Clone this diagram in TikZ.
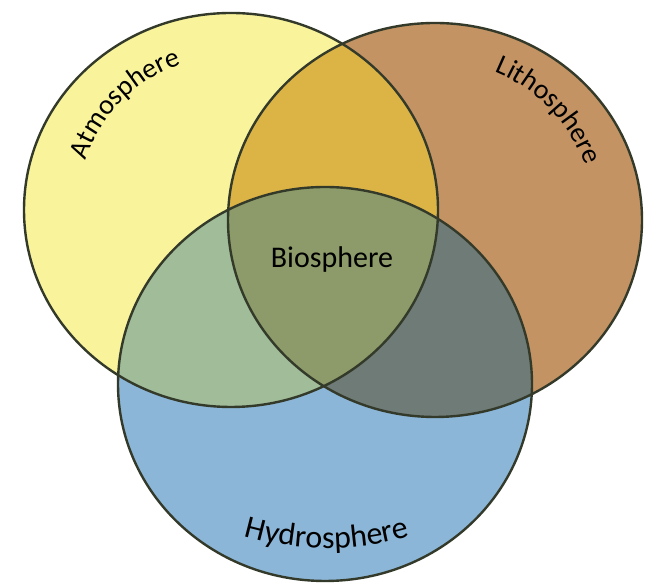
\documentclass[tikz,border=0pt]{standalone}
\usepackage{fontspec}
\setmainfont{Carlito}
\usepackage{tikz}
\usetikzlibrary{decorations.text}

\definecolor{atmoyellow}{HTML}{F9F49C}
\definecolor{lithobrown}{HTML}{C39363}
\definecolor{hydroblue}{HTML}{8CB6D8}
\definecolor{goldmix}{HTML}{DCB446}
\definecolor{sagemix}{HTML}{A0BC98}
\definecolor{slatemix}{HTML}{6F7B77}
\definecolor{olivemix}{HTML}{8C9B69}
\definecolor{ringline}{HTML}{343A2A}

\newcommand{\atmopath}{(231,375) ellipse [x radius=207, y radius=197]}
\newcommand{\lithopath}{(435,365) ellipse [x radius=207, y radius=197]}
\newcommand{\hydropath}{(325,201) ellipse [x radius=207, y radius=197]}
\newcommand{\lblfont}{\fontsize{28}{32}\selectfont}
\newcommand{\bigfont}{\fontsize{32}{36}\selectfont}

\begin{document}
\begin{tikzpicture}[
    x=1pt, y=1pt,
    ring/.style={draw=ringline, line width=2.4pt},
    curved/.style 2 args={decorate, decoration={text along path, text align=center,
                   text={|#1|#2}}},
    core/.style={font=\fontsize{30}{34}\selectfont, text=black, inner sep=0pt},
]
\fill[white] (0,0) rectangle (648,585);
\useasboundingbox (0,0) rectangle (648,585);

\fill[atmoyellow] \atmopath;
\fill[lithobrown] \lithopath;
\fill[hydroblue]  \hydropath;
\begin{scope}
  \clip \atmopath;
  \fill[goldmix] \lithopath;
  \fill[sagemix] \hydropath;
\end{scope}
\begin{scope}
  \clip \lithopath;
  \fill[slatemix] \hydropath;
\end{scope}
\begin{scope}
  \clip \atmopath;
  \clip \lithopath;
  \fill[olivemix] \hydropath;
\end{scope}

\draw[ring] \atmopath;
\draw[ring] \lithopath;
\draw[ring] \hydropath;

\coordinate (atmo)  at (231,375);
\coordinate (litho) at (435,365);
\coordinate (hydro) at (327,337);

\path[curved={\lblfont}{Atmosphere}]  (atmo)  ++(170:154) arc[start angle=170, end angle=100, radius=154];
\path[curved={\lblfont}{Lithosphere}] (litho) ++(80:160)  arc[start angle=80,  end angle=8,   radius=160];
\path[curved={\bigfont}{Hydrosphere}] (hydro) ++(248:300) arc[start angle=248, end angle=292, radius=300];

\node[core] (bio) at (332,325) {Biosphere};
\end{tikzpicture}
\end{document}
